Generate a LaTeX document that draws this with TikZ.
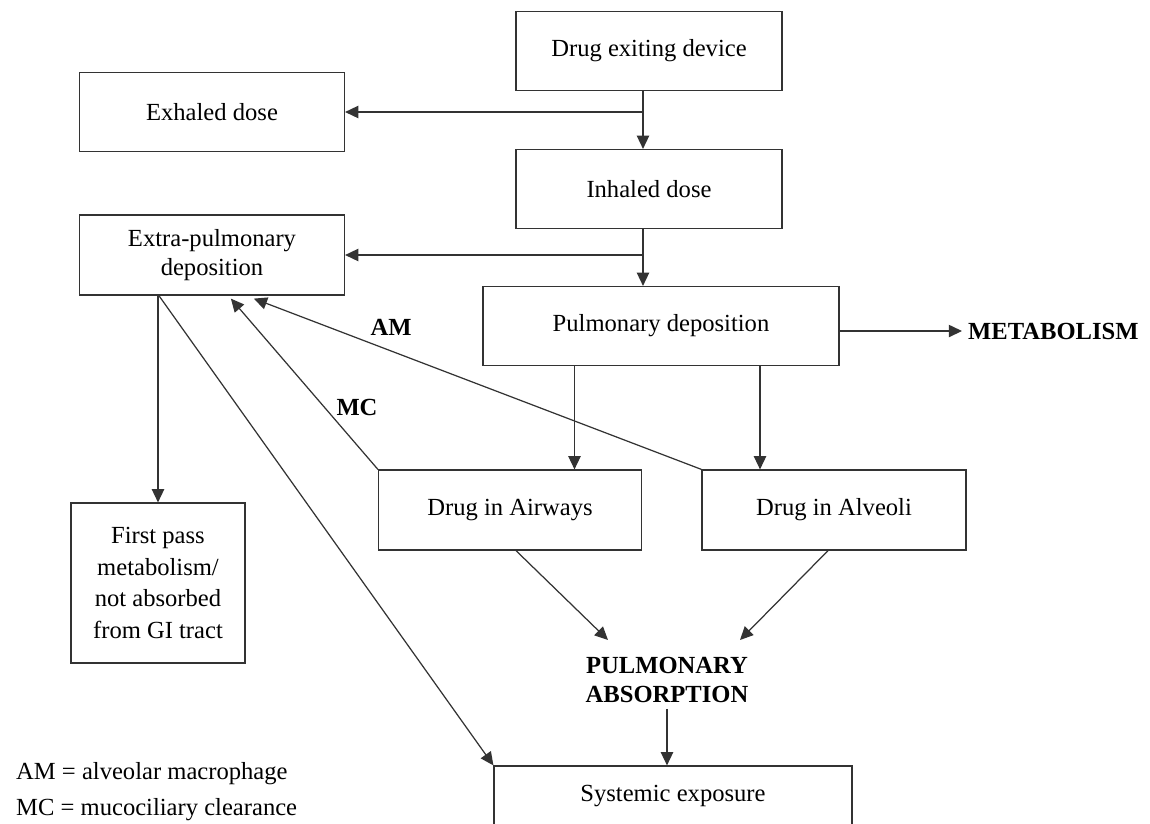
\documentclass[tikz,border=0pt]{standalone}
\usepackage{fontspec}
\setmainfont{Liberation Serif}
\usetikzlibrary{arrows.meta}

\begin{document}
\begin{tikzpicture}[x=0.02cm, y=-0.02cm, font=\fontsize{14}{16.5}\selectfont,
  box/.style={draw=black!80, line width=0.7pt, align=center, minimum height=1.58cm, inner sep=2pt},
  arr/.style={draw=black!80, line width=0.7pt, -{Triangle[length=7.5pt,width=7pt]}},
  lbl/.style={font=\fontsize{14}{16.5}\selectfont\bfseries}]
  \useasboundingbox (0,0) rectangle (1150,823);

  % boxes
  \node[box, minimum width=5.32cm] (dev) at (649,51) {Drug exiting device};
  \node[box, minimum width=5.3cm] (exh) at (212,112) {Exhaled dose};
  \node[box, minimum width=5.32cm] (inh) at (649,189) {Inhaled dose};
  \node[box, minimum width=5.3cm, minimum height=1.6cm] (extra) at (212,255) {Extra-pulmonary\\deposition};
  \node[box, minimum width=7.12cm] (pulm) at (661,326) {Pulmonary deposition};
  \node[box, minimum width=5.26cm, minimum height=1.6cm] (air) at (510,510) {Drug in Airways};
  \node[box, minimum width=5.28cm, minimum height=1.6cm] (alv) at (834,510) {Drug in Alveoli};
  \node[box, minimum width=3.48cm, minimum height=3.2cm, font=\fontsize{14}{18}\selectfont] (first) at (158,583)
    {First pass\\metabolism/\\not absorbed\\from GI tract};
  \node[box, minimum width=7.16cm, minimum height=1.2cm] (sys) at (673,796) {Systemic exposure};

  % bold labels
  \node[lbl, anchor=west] (metab) at (962,331) {METABOLISM};
  \node[lbl, align=center] (absb) at (667,680) {PULMONARY\\ABSORPTION};
  \node[lbl] (am) at (391,327) {AM};
  \node[lbl] (mc) at (357,407) {MC};

  % legend
  \node[anchor=west] (legam) at (10,774) {AM = alveolar macrophage};
  \node[anchor=west] (legmc) at (10,810) {MC = mucociliary clearance};

  % connectors
  \coordinate (v1) at ([xshift=-0.12cm]dev.south);
  \coordinate (v2) at ([xshift=-0.12cm]inh.south);
  \draw[arr] (v1) -- (v1 |- inh.north);
  \draw[arr] (v1 |- exh.east) -- (exh.east);
  \draw[arr] (v2) -- (v2 |- pulm.north);
  \draw[arr] (v2 |- extra.east) -- (extra.east);
  \draw[arr] (pulm.east |- metab) -- (metab.west);

  \coordinate (p1) at ([xshift=1.29cm]air.north);
  \coordinate (p2) at ([xshift=-1.48cm]alv.north);
  \draw[arr] (pulm.south -| p1) -- (p1);
  \draw[arr] (pulm.south -| p2) -- (p2);

  \draw[arr] (air.north west) -- ([xshift=3.04cm,yshift=-0.06cm]extra.south west);
  \draw[arr] (alv.north west) -- ([xshift=3.5cm,yshift=-0.06cm]extra.south west);
  \draw[arr] (extra.south -| first.north) -- (first.north);
  \draw[arr] ([xshift=1.6cm]extra.south west) -- (sys.north west);

  \coordinate (t1) at (608,640);
  \coordinate (t2) at (740,640);
  \draw[arr] ([xshift=0.12cm]air.south) -- (t1);
  \draw[arr] ([xshift=-0.12cm]alv.south) -- (t2);
  \draw[arr] (absb.south) -- (absb.south |- sys.north);
\end{tikzpicture}
\end{document}
